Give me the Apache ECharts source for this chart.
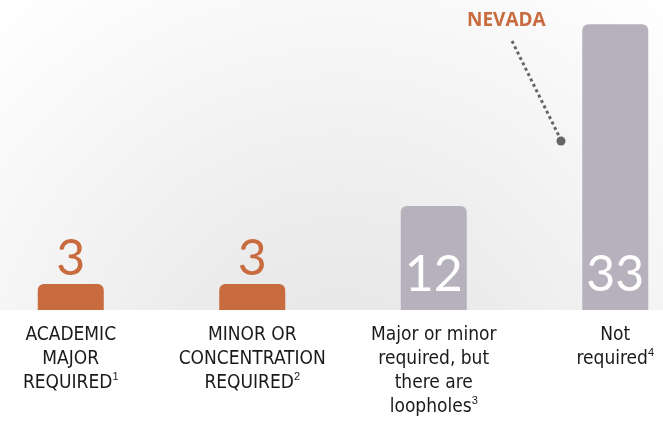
<!DOCTYPE html>
<html>
<head>
<meta charset="utf-8">
<script src="https://cdn.jsdelivr.net/npm/echarts@6/dist/echarts.min.js"></script>
<style>
  html, body { margin: 0; padding: 0; background: #fff; }
  #main { width: 663px; height: 431px; }
</style>
</head>
<body>
<div id="main"></div>
<script>
var categories = ['ACADEMIC\nMAJOR\nREQUIRED', 'MINOR OR\nCONCENTRATION\nREQUIRED', 'Major or minor\nrequired, but\nthere are\nloopholes', 'Not\nrequired'];
var footnotes = ['1', '2', '3', '4'];
var values = [3, 3, 12, 33];
var annotation = 'NEVADA';

var ORANGE = '#c86b3e';
var GREY = '#b6b1bd';

var chart = echarts.init(document.getElementById('main'));

var seriesData = values.map(function (v, i) {
  var strict = i < 2;   // first two groups are the orange ones
  return {
    value: v,
    itemStyle: { color: strict ? ORANGE : GREY },
    label: strict
      ? { position: 'top', distance: 0, color: ORANGE }
      : { position: 'insideBottom', distance: 10, color: '#ffffff' }
  };
});

var option = {
  backgroundColor: '#ffffff',
  animation: false,
  grid: { left: -20, right: -43, top: 0, bottom: 121, containLabel: false, outerBoundsMode: 'none' },
  graphic: [
    {
      type: 'rect',
      z: -10,
      silent: true,
      shape: { x: 0, y: 0, width: 663, height: 310 },
      style: {
        fill: new echarts.graphic.RadialGradient(340, 400, 520, [
          { offset: 0, color: '#e4e4e4' },
          { offset: 0.35, color: '#ececec' },
          { offset: 0.75, color: '#f8f8f8' },
          { offset: 1, color: '#ffffff' }
        ], true)
      }
    },
    {
      type: 'text',
      left: 467, top: 11,
      style: { text: annotation, fill: ORANGE, font: 'bold 19px "Open Sans", sans-serif' }
    },
    {
      type: 'line',
      shape: { x1: 512, y1: 41, x2: 559, y2: 136 },
      style: { stroke: '#666666', lineWidth: 3, lineDash: [3, 3] }
    },
    {
      type: 'circle',
      shape: { cx: 561, cy: 141, r: 4.5 },
      style: { fill: '#666666' }
    }
  ],
  xAxis: {
    type: 'category',
    data: categories,
    axisLine: { show: false },
    axisTick: { show: false },
    axisLabel: {
      interval: 0,
      margin: 13,
      color: '#1a1a1a',
      fontSize: 19,
      lineHeight: 24,
      fontFamily: '"Liberation Sans Narrow", "DejaVu Sans Condensed", sans-serif',
      formatter: function (name, idx) {
        return name + '{sup|' + footnotes[idx] + '}';
      },
      rich: {
        sup: { fontSize: 11, lineHeight: 24, verticalAlign: 'top', color: '#1a1a1a',
               fontFamily: '"Liberation Sans Narrow", sans-serif', padding: [0, 0, 8, 0] }
      }
    }
  },
  yAxis: {
    type: 'value',
    min: 0,
    max: 35.8,
    show: false,
    splitLine: { show: false }
  },
  series: [
    {
      type: 'bar',
      barWidth: 66,
      data: seriesData,
      itemStyle: { borderRadius: [6, 6, 0, 0] },
      label: {
        show: true,
        fontSize: 50,
        fontWeight: 'normal',
        fontFamily: 'Lato, "Open Sans", sans-serif'
      }
    }
  ]
};

chart.setOption(option);
</script>
</body>
</html>
